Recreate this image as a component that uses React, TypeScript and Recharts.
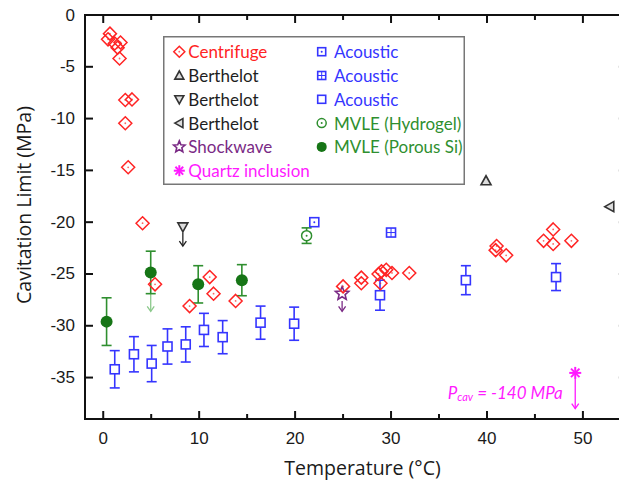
import React from 'react';
import {
  ScatterChart, Scatter, XAxis, YAxis, ErrorBar, ReferenceLine, ReferenceArea, ReferenceDot, Legend, Label,
} from 'recharts';

// ---- data (temperature in °C, cavitation limit in MPa) ----
const centrifugeT = [0.7, 0.5, 1.2, 1.8, 1.5, 1.7, 2.3, 3.0, 2.3, 2.6, 4.1, 5.4, 9.0, 11.1, 11.5, 13.8,
  25.0, 26.9, 26.9, 28.7, 29.0, 29.5, 30.1, 28.9, 31.9, 41.0, 40.9, 42.0, 45.9, 46.9, 46.9, 48.8];
const centrifugeP = [-1.8, -2.35, -2.75, -2.65, -3.15, -4.2, -8.2, -8.15, -10.45, -14.7, -20.1, -26.0, -28.1, -25.3, -26.9, -27.6,
  -26.2, -25.35, -25.9, -25.0, -24.75, -24.6, -24.9, -25.9, -24.9, -22.3, -22.7, -23.2, -21.8, -20.7, -22.1, -21.8];

const berthelotUpT = [39.9];
const berthelotUpP = [-16.0];
const berthelotDownT = [8.3];
const berthelotDownP = [-20.45];
const berthelotLeftT = [52.8];
const berthelotLeftP = [-18.5];

const shockwaveT = [24.9];
const shockwaveP = [-26.9];

const quartzT = [49.2];
const quartzP = [-34.55];

const acousticDotT = [22.0];
const acousticDotP = [-20.0];
const acousticGridT = [30.0];
const acousticGridP = [-21.0];
const acousticT = [1.2, 3.2, 5.05, 6.7, 8.6, 10.5, 12.45, 16.4, 19.9, 28.85, 37.8, 47.2];
const acousticP = [-34.2, -32.75, -33.65, -32.0, -31.8, -30.4, -31.1, -29.7, -29.8, -27.05, -25.6, -25.3];
const acousticErr = [1.8, 1.7, 1.75, 1.7, 1.7, 1.6, 1.6, 1.6, 1.6, 1.45, 1.4, 1.3];

const hydrogelT = [21.2];
const hydrogelP = [-21.3];
const hydrogelErr = [0.75];

const porousT = [0.35, 4.95, 9.9, 14.45];
const porousP = [-29.6, -24.85, -26.0, -25.6];
const porousErr = [2.3, 2.05, 1.8, 1.5];

// lower-bound arrows: x, start, end
const arrowSeries = ['berthelot', 'porous', 'shockwave', 'quartz'];
const arrowT = [8.3, 4.95, 24.9, 49.2];
const arrowFrom = [-21.0, -26.9, -27.6, -35.1];
const arrowTo = [-22.3, -28.6, -28.6, -38.0];

const xTicks = [0, 5, 10, 15, 20, 25, 30, 35, 40, 45, 50];
const yTicks = [0, -5, -10, -15, -20, -25, -30, -35];
const xDomain = [-1.9, 54.7];
const yDomain = [-39, 0];

const RED = '#ff2424';
const GREY = '#333333';
const BLUE = '#3535ff';
const GREEN = '#2f8f2f';
const DARKGREEN = '#167516';
const PURPLE = '#7a2a85';
const MAGENTA = '#ff1aff';
const AXIS = '#111111';

const arrowColors: Record<string, string> = {
  berthelot: '#222222',
  porous: '#8cc98c',
  shockwave: PURPLE,
  quartz: MAGENTA,
};

const rows = (t: number[], p: number[], err?: number[]) =>
  t.map((v, i) => ({ t: v, p: p[i], err: err ? err[i] : 0 }));

// ---- marker shapes ----
const Diamond = ({ cx, cy, s = 6.5 }: any) => (
  <g>
    <polygon points={`${cx},${cy - s} ${cx + s},${cy} ${cx},${cy + s} ${cx - s},${cy}`} fill="none" stroke={RED} strokeWidth={1.5} />
    <circle cx={cx} cy={cy} r={0.9} fill={RED} opacity={0.7} />
  </g>
);

const Triangle = ({ cx, cy, dir = 'up', s = 5 }: any) => {
  let pts = '';
  if (dir === 'up') pts = `${cx},${cy - s} ${cx + s},${cy + s * 0.8} ${cx - s},${cy + s * 0.8}`;
  if (dir === 'down') pts = `${cx},${cy + s} ${cx + s},${cy - s * 0.8} ${cx - s},${cy - s * 0.8}`;
  if (dir === 'left') pts = `${cx - s},${cy} ${cx + s * 0.8},${cy - s} ${cx + s * 0.8},${cy + s}`;
  return <polygon points={pts} fill="#ddd" stroke={GREY} strokeWidth={1.6} />;
};

const Square = ({ cx, cy, s = 4.5, kind = 'open' }: any) => (
  <g>
    <rect x={cx - s} y={cy - s} width={s * 2} height={s * 2} fill="#fff" stroke={BLUE} strokeWidth={1.6} />
    {kind === 'dot' && <circle cx={cx} cy={cy} r={1} fill={BLUE} />}
    {kind === 'grid' && (
      <g stroke={BLUE} strokeWidth={1}>
        <line x1={cx - s} x2={cx + s} y1={cy} y2={cy} />
        <line x1={cx} x2={cx} y1={cy - s} y2={cy + s} />
      </g>
    )}
  </g>
);

const OpenCircle = ({ cx, cy, r = 5 }: any) => (
  <g>
    <circle cx={cx} cy={cy} r={r} fill="#fff" stroke={GREEN} strokeWidth={1.5} />
    <circle cx={cx} cy={cy} r={1} fill={GREEN} />
  </g>
);

const FilledCircle = ({ cx, cy, r = 6 }: any) => <circle cx={cx} cy={cy} r={r} fill={DARKGREEN} />;

const Star = ({ cx, cy, r = 7 }: any) => {
  const pts = Array.from({ length: 10 }, (_, i) => {
    const a = -Math.PI / 2 + (i * Math.PI) / 5;
    const rr = i % 2 === 0 ? r : r * 0.45;
    return `${cx + rr * Math.cos(a)},${cy + rr * Math.sin(a)}`;
  }).join(' ');
  return <polygon points={pts} fill="none" stroke={PURPLE} strokeWidth={1.6} />;
};

const Asterisk = ({ cx, cy, r = 6 }: any) => (
  <g stroke={MAGENTA} strokeWidth={2}>
    {[0, 45, 90, 135].map((d) => {
      const a = (d * Math.PI) / 180;
      return <line key={d} x1={cx - r * Math.cos(a)} y1={cy - r * Math.sin(a)} x2={cx + r * Math.cos(a)} y2={cy + r * Math.sin(a)} />;
    })}
  </g>
);

const ArrowLine = ({ x1, y1, x2, y2, stroke }: any) => (
  <g stroke={stroke} strokeWidth={1.3} fill="none">
    <line x1={x1} y1={y1} x2={x2} y2={y2} />
    <polyline points={`${x2 - 3.5},${y2 - 5} ${x2},${y2} ${x2 + 3.5},${y2 - 5}`} />
  </g>
);

// ---- axis ticks (all pointing inward) ----
const tickFont = { fontFamily: '"Liberation Sans", Arial, sans-serif', fontSize: 17, fill: '#1a1a1a' };

const BottomTick = ({ x, y, payload }: any) => {
  const major = payload.value % 10 === 0;
  return (
    <g>
      <line x1={x} x2={x} y1={y} y2={y - (major ? 8 : 5)} stroke={AXIS} strokeWidth={2} />
      {major && <text x={x} y={y + 19} textAnchor="middle" dominantBaseline="central" {...tickFont}>{payload.value}</text>}
    </g>
  );
};

const LeftTick = ({ x, y, payload }: any) => (
  <g>
    <line x1={x} x2={x + 8} y1={y} y2={y} stroke={AXIS} strokeWidth={2} />
    <text x={x - 10} y={y} textAnchor="end" dominantBaseline="central" {...tickFont}>{payload.value}</text>
  </g>
);

const titleFont = { fontFamily: '"Open Sans", sans-serif', fontSize: 19.5, fill: '#1a1a1a' };

const XTitle = ({ viewBox }: any) => (
  <text x={viewBox.x + viewBox.width / 2 + 6} y={viewBox.y + 48} textAnchor="middle" dominantBaseline="central" {...titleFont}>
    Temperature (°C)
  </text>
);

const YTitle = ({ viewBox }: any) => {
  const cx = viewBox.x + 23;
  const cy = viewBox.y + viewBox.height / 2 - 12;
  return (
    <text x={cx} y={cy} transform={`rotate(-90 ${cx} ${cy})`} textAnchor="middle" dominantBaseline="central" {...titleFont}>
      Cavitation Limit (MPa)
    </text>
  );
};

// ---- legend ----
const legendLeft = [
  { name: 'Centrifuge', color: RED, icon: (x: number, y: number) => <Diamond cx={x} cy={y} s={5.5} /> },
  { name: 'Berthelot', color: '#1e1e1e', icon: (x: number, y: number) => <Triangle cx={x} cy={y} s={4.5} dir="up" /> },
  { name: 'Berthelot', color: '#1e1e1e', icon: (x: number, y: number) => <Triangle cx={x} cy={y} s={4.5} dir="down" /> },
  { name: 'Berthelot', color: '#1e1e1e', icon: (x: number, y: number) => <Triangle cx={x} cy={y} s={4.5} dir="left" /> },
  { name: 'Shockwave', color: PURPLE, icon: (x: number, y: number) => <Star cx={x} cy={y} r={6} /> },
  { name: 'Quartz inclusion', color: MAGENTA, icon: (x: number, y: number) => <Asterisk cx={x} cy={y} r={5.5} /> },
];
const legendRight = [
  { name: 'Acoustic', color: BLUE, icon: (x: number, y: number) => <Square cx={x} cy={y} s={4} kind="dot" /> },
  { name: 'Acoustic', color: BLUE, icon: (x: number, y: number) => <Square cx={x} cy={y} s={4} kind="grid" /> },
  { name: 'Acoustic', color: BLUE, icon: (x: number, y: number) => <Square cx={x} cy={y} s={4} /> },
  { name: 'MVLE (Hydrogel)', color: GREEN, icon: (x: number, y: number) => <OpenCircle cx={x} cy={y} r={4.5} /> },
  { name: 'MVLE (Porous Si)', color: GREEN, icon: (x: number, y: number) => <FilledCircle cx={x} cy={y} r={5} /> },
];

const LegendBox = () => (
  <svg width={302} height={149} style={{ display: 'block' }}>
    <rect x={0.75} y={0.75} width={300.5} height={147.5} fill="#fff" stroke="#777" strokeWidth={1.5} />
    {[legendLeft, legendRight].map((col, ci) =>
      col.map((item, i) => {
        const y = 15.7 + i * 23.8;
        const ix = ci === 0 ? 16.3 : 158.7;
        const tx = ci === 0 ? 25.3 : 171;
        return (
          <g key={`${ci}-${i}`}>
            {item.icon(ix, y)}
            <text x={tx} y={y} dominantBaseline="central" fontFamily="Lato, sans-serif" fontSize={17} fill={item.color}>
              {item.name}
            </text>
          </g>
        );
      })
    )}
  </svg>
);

const PcavLabel = ({ cx, cy }: any) => (
  <text x={cx} y={cy} textAnchor="end" dominantBaseline="central" fontFamily="Lato, sans-serif" fontStyle="italic" fontSize={17} fill={MAGENTA}>
    P<tspan fontSize={11} dy={4}>cav</tspan><tspan dy={-4}> = -140 MPa</tspan>
  </text>
);

export default function App() {
  return (
    <div style={{ marginLeft: -8, marginTop: -8, width: 627, height: 480, overflow: 'hidden', background: '#fff' }}>
      <ScatterChart width={640} height={480} margin={{ top: 15, right: 12, bottom: 0, left: 0 }}>
        <XAxis dataKey="t" type="number" domain={xDomain} ticks={xTicks} interval={0} height={61}
          tickSize={0} tickMargin={0} tick={<BottomTick />} axisLine={{ stroke: AXIS, strokeWidth: 2 }} allowDataOverflow>
          <Label content={<XTitle />} />
        </XAxis>
        <YAxis dataKey="p" type="number" domain={yDomain} ticks={yTicks} interval={0} width={85}
          tickSize={0} tickMargin={0} tick={<LeftTick />} axisLine={{ stroke: AXIS, strokeWidth: 2 }} allowDataOverflow>
          <Label content={<YTitle />} />
        </YAxis>

        {/* plot frame */}
        <ReferenceArea x1={xDomain[0]} x2={xDomain[1]} y1={yDomain[0]} y2={yDomain[1]} fill="none" fillOpacity={0}
          stroke={AXIS} strokeWidth={2} ifOverflow="visible" />
        {/* inward ticks on the top and right edges */}
        {xTicks.map((t) => (
          <ReferenceLine key={`tt-${t}`} segment={[{ x: t, y: -0.01 }, { x: t, y: -(t % 10 === 0 ? 0.77 : 0.48) }]}
            stroke={AXIS} strokeWidth={2} />
        ))}
        {yTicks.map((v) => (
          <ReferenceLine key={`rt-${v}`} segment={[{ x: xDomain[1] - 0.95, y: v }, { x: xDomain[1] - 0.01, y: v }]}
            stroke={AXIS} strokeWidth={2} />
        ))}

        {arrowT.map((t, i) => (
          <ReferenceLine key={`arrow-${i}`} segment={[{ x: t, y: arrowFrom[i] }, { x: t, y: arrowTo[i] }]}
            shape={(p: any) => <ArrowLine {...p} stroke={arrowColors[arrowSeries[i]]} />} />
        ))}

        <Scatter name="Acoustic" data={rows(acousticT, acousticP, acousticErr)} shape={(p: any) => <Square cx={p.cx} cy={p.cy} />} isAnimationActive={false}>
          <ErrorBar dataKey="err" direction="y" width={5} stroke={BLUE} strokeWidth={1.6} />
        </Scatter>
        <Scatter name="MVLE (Porous Si)" data={rows(porousT, porousP, porousErr)} shape={(p: any) => <FilledCircle cx={p.cx} cy={p.cy} />} isAnimationActive={false}>
          <ErrorBar dataKey="err" direction="y" width={5} stroke={GREEN} strokeWidth={1.6} />
        </Scatter>
        <Scatter name="MVLE (Hydrogel)" data={rows(hydrogelT, hydrogelP, hydrogelErr)} shape={(p: any) => <OpenCircle cx={p.cx} cy={p.cy} />} isAnimationActive={false}>
          <ErrorBar dataKey="err" direction="y" width={5} stroke={GREEN} strokeWidth={1.6} />
        </Scatter>
        <Scatter name="Acoustic dot" data={rows(acousticDotT, acousticDotP)} shape={(p: any) => <Square cx={p.cx} cy={p.cy} kind="dot" />} isAnimationActive={false} />
        <Scatter name="Acoustic grid" data={rows(acousticGridT, acousticGridP)} shape={(p: any) => <Square cx={p.cx} cy={p.cy} kind="grid" />} isAnimationActive={false} />
        <Scatter name="Berthelot up" data={rows(berthelotUpT, berthelotUpP)} shape={(p: any) => <Triangle cx={p.cx} cy={p.cy} dir="up" />} isAnimationActive={false} />
        <Scatter name="Berthelot down" data={rows(berthelotDownT, berthelotDownP)} shape={(p: any) => <Triangle cx={p.cx} cy={p.cy} dir="down" />} isAnimationActive={false} />
        <Scatter name="Berthelot left" data={rows(berthelotLeftT, berthelotLeftP)} shape={(p: any) => <Triangle cx={p.cx} cy={p.cy} dir="left" />} isAnimationActive={false} />
        <Scatter name="Shockwave" data={rows(shockwaveT, shockwaveP)} shape={(p: any) => <Star cx={p.cx} cy={p.cy} />} isAnimationActive={false} />
        <Scatter name="Quartz inclusion" data={rows(quartzT, quartzP)} shape={(p: any) => <Asterisk cx={p.cx} cy={p.cy} />} isAnimationActive={false} />
        <Scatter name="Centrifuge" data={rows(centrifugeT, centrifugeP)} shape={(p: any) => <Diamond cx={p.cx} cy={p.cy} />} isAnimationActive={false} />

        <ReferenceDot x={47.9} y={-36.4} r={0} shape={(p: any) => <PcavLabel {...p} />} />

        <Legend layout="vertical" align="center" verticalAlign="middle"
          wrapperStyle={{ left: 163, top: 36, width: 302, height: 149 }} content={() => <LegendBox />} />
      </ScatterChart>
    </div>
  );
}
